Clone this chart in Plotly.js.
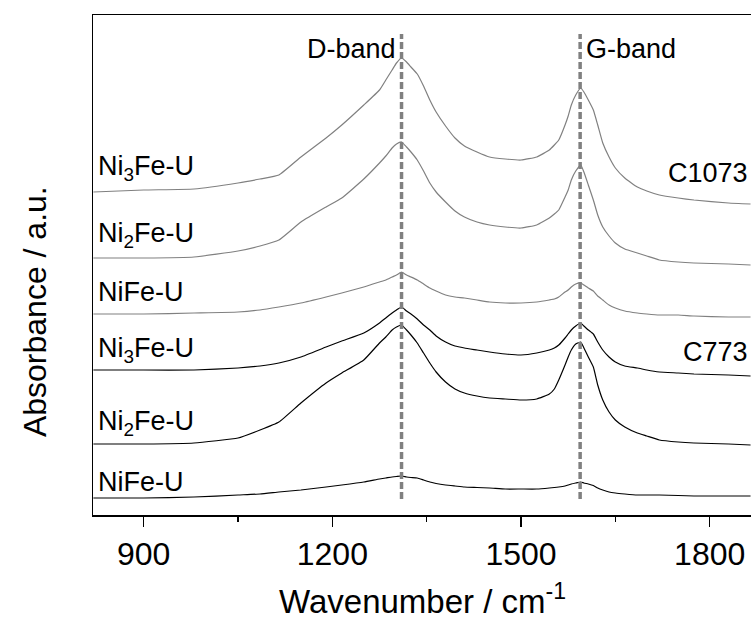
<!DOCTYPE html>
<html>
<head>
<meta charset="utf-8">
<script src="https://cdn.plot.ly/plotly-3.0.1.min.js"></script>
<style>html,body{margin:0;padding:0;background:#fff;}#chart{width:751px;height:623px;}</style>
</head>
<body>
<div id="chart"></div>
<script>
// Wavenumber (cm^-1)
const wavenumber = [820, 900, 980, 1050, 1085, 1115, 1150, 1190, 1215, 1250, 1275, 1285, 1295, 1302, 1310, 1318, 1325, 1335, 1345, 1355, 1365, 1380, 1395, 1410, 1430, 1450, 1475, 1500, 1525, 1545, 1553, 1560, 1570, 1575, 1580, 1587, 1595, 1600, 1607, 1615, 1622, 1630, 1640, 1650, 1665, 1685, 1700, 1720, 1750, 1775, 1830, 1865];

// Offset absorbance (a.u.) for each spectrum
const ni3fe_C1073 = [64.6, 65.0, 65.2, 66.4, 67.2, 68.0, 71.6, 75.4, 78.0, 82.0, 85.0, 87.0, 89.0, 90.4, 91.4, 90.6, 89.6, 88.2, 85.8, 83.0, 80.6, 77.8, 75.4, 73.8, 72.6, 71.6, 71.2, 71.0, 71.6, 73.0, 74.0, 75.0, 78.0, 79.8, 82.0, 84.0, 85.4, 84.6, 83.0, 81.0, 78.0, 74.4, 71.6, 69.4, 67.4, 65.6, 64.8, 64.0, 63.4, 63.0, 62.4, 62.2];
const ni2fe_C1073 = [51.4, 51.4, 51.6, 52.8, 53.8, 55.0, 58.6, 61.6, 63.4, 67.2, 70.4, 71.8, 73.4, 74.2, 74.6, 73.6, 72.6, 71.0, 68.8, 66.4, 64.6, 62.6, 60.8, 59.6, 58.6, 58.0, 57.6, 57.4, 58.0, 59.4, 60.2, 61.0, 63.6, 65.0, 67.0, 68.8, 70.0, 68.6, 66.0, 63.0, 60.0, 57.6, 55.8, 54.4, 53.2, 52.4, 51.8, 51.0, 50.6, 50.4, 50.2, 50.0];
const nife_C1073  = [40.2, 40.2, 40.4, 40.6, 41.0, 41.6, 42.4, 43.6, 44.4, 45.6, 46.6, 47.0, 47.6, 48.0, 48.6, 48.0, 47.6, 47.0, 46.2, 45.4, 44.8, 44.0, 43.6, 43.4, 43.0, 42.6, 42.4, 42.4, 42.6, 43.0, 43.2, 43.6, 44.6, 45.0, 45.6, 46.2, 46.4, 46.0, 45.4, 44.8, 43.8, 43.0, 42.0, 41.4, 40.8, 40.4, 40.2, 40.0, 40.0, 39.8, 39.6, 39.6];
const ni3fe_C773  = [29.0, 29.0, 29.0, 29.4, 29.8, 30.4, 31.6, 33.6, 34.8, 36.4, 38.4, 39.4, 40.4, 41.0, 41.6, 40.8, 40.2, 39.2, 38.0, 37.0, 35.8, 34.6, 33.8, 33.4, 33.0, 32.6, 32.2, 32.0, 32.4, 33.0, 33.4, 34.0, 35.4, 36.2, 37.0, 37.8, 38.4, 37.8, 37.0, 36.2, 34.6, 33.0, 31.6, 30.6, 29.8, 29.4, 29.0, 28.6, 28.4, 28.2, 28.0, 27.8];
const ni2fe_C773  = [14.2, 14.2, 14.4, 15.4, 17.0, 18.6, 22.4, 26.4, 28.4, 31.0, 34.4, 35.6, 37.0, 37.6, 38.0, 37.0, 36.0, 34.4, 32.4, 30.4, 28.6, 26.6, 25.2, 24.4, 23.8, 23.4, 23.2, 23.0, 23.2, 24.2, 25.2, 27.0, 30.0, 31.6, 33.0, 34.2, 34.6, 33.4, 31.6, 29.6, 26.0, 23.0, 20.6, 19.0, 17.6, 16.4, 15.8, 15.0, 14.6, 14.4, 14.2, 14.0];
const nife_C773   = [3.4, 3.4, 3.6, 4.0, 4.2, 4.6, 5.0, 5.6, 6.0, 6.6, 7.2, 7.4, 7.6, 7.7, 7.8, 7.6, 7.5, 7.4, 7.0, 6.6, 6.3, 6.0, 5.8, 5.6, 5.5, 5.4, 5.2, 5.2, 5.2, 5.4, 5.5, 5.6, 5.8, 6.0, 6.2, 6.4, 6.6, 6.4, 6.2, 5.9, 5.4, 5.0, 4.6, 4.4, 4.2, 4.0, 4.0, 4.0, 3.9, 3.8, 3.8, 3.8];

const seriesValues = [ni3fe_C1073, ni2fe_C1073, nife_C1073, ni3fe_C773, ni2fe_C773, nife_C773];
const seriesNames = ["Ni<sub>3</sub>Fe-U", "Ni<sub>2</sub>Fe-U", "NiFe-U", "Ni<sub>3</sub>Fe-U", "Ni<sub>2</sub>Fe-U", "NiFe-U"];
const seriesGroup = ["C1073", "C1073", "C1073", "C773", "C773", "C773"];
const labelY = [69.4, 56.0, 44.6, 33.0, 18.4, 6.6];

const groupNames = ["C1073", "C773"];
const groupLabelY = [68.4, 32.6];

const bandNames = ["D-band", "G-band"];
const bandPositions = [1310, 1594];

const xTickVals = [900, 1200, 1500, 1800];

const groupColor = {"C1073": "#808080", "C773": "#000000"};
const FONT = "Liberation Sans, Arial, sans-serif";

const traces = seriesValues.map((vals, i) => ({
  x: wavenumber,
  y: vals,
  type: "scatter",
  mode: "lines",
  name: seriesNames[i] + " " + seriesGroup[i],
  line: {color: groupColor[seriesGroup[i]], width: 1.2, shape: "spline", smoothing: 0.4},
  hoverinfo: "skip"
}));

const annotations = [];
seriesNames.forEach((n, i) => {
  annotations.push({
    text: n, xref: "paper", yref: "y", x: 0.004, y: labelY[i],
    xanchor: "left", yanchor: "middle", showarrow: false,
    font: {family: FONT, size: 27, color: "#000"}
  });
});
groupNames.forEach((g, i) => {
  annotations.push({
    text: g, xref: "paper", yref: "y", x: 0.999, y: groupLabelY[i],
    xanchor: "right", yanchor: "middle", showarrow: false,
    font: {family: FONT, size: 27, color: "#000"}
  });
});
bandNames.forEach((b, i) => {
  annotations.push({
    text: b, xref: "x", yref: "y", x: bandPositions[i], y: 93.2,
    xanchor: i === 0 ? "right" : "left", xshift: i === 0 ? -4 : 4,
    yanchor: "middle", showarrow: false,
    font: {family: FONT, size: 27, color: "#000"}
  });
});
annotations.push({
  text: "Absorbance / a.u.", xref: "paper", yref: "paper",
  x: -0.088, y: 0.406, xanchor: "center", yanchor: "middle",
  textangle: -90, showarrow: false,
  font: {family: FONT, size: 32, color: "#000"}
});
annotations.push({
  text: "Wavenumber / cm<sup>-1</sup>", xref: "paper", yref: "paper",
  x: 0.5, y: -0.168, xanchor: "center", yanchor: "middle",
  showarrow: false,
  font: {family: FONT, size: 33, color: "#000"}
});

const shapes = bandPositions.map(p => ({
  type: "line", xref: "x", yref: "y", x0: p, x1: p, y0: 3.2, y1: 96.2,
  line: {color: "#808080", width: 3.5, dash: "7px,3px"}, layer: "above"
}));

const layout = {
  width: 751, height: 623,
  margin: {l: 93, r: 0, t: 15, b: 108},
  paper_bgcolor: "#fff", plot_bgcolor: "#fff",
  showlegend: false,
  font: {family: FONT, color: "#000"},
  xaxis: {
    range: [819.4, 1865.7], tickvals: xTickVals, ticktext: xTickVals.map(String),
    ticks: "outside", ticklen: 10, tickwidth: 1.5, tickcolor: "#000",
    minor: {tickvals: [1050, 1350, 1650], ticks: "outside", ticklen: 5, tickwidth: 1.2, tickcolor: "#000"},
    showline: true, linecolor: "#000", linewidth: 1.5, mirror: true,
    showgrid: false, zeroline: false,
    tickfont: {family: FONT, size: 32, color: "#000"}
  },
  yaxis: {
    range: [0, 100], showticklabels: false, ticks: "",
    showline: true, linecolor: "#000", linewidth: 1.5,
    showgrid: false, zeroline: false
  },
  annotations: annotations,
  shapes: shapes
};

Plotly.newPlot("chart", traces, layout, {displayModeBar: false, staticPlot: true});
</script>
</body>
</html>
